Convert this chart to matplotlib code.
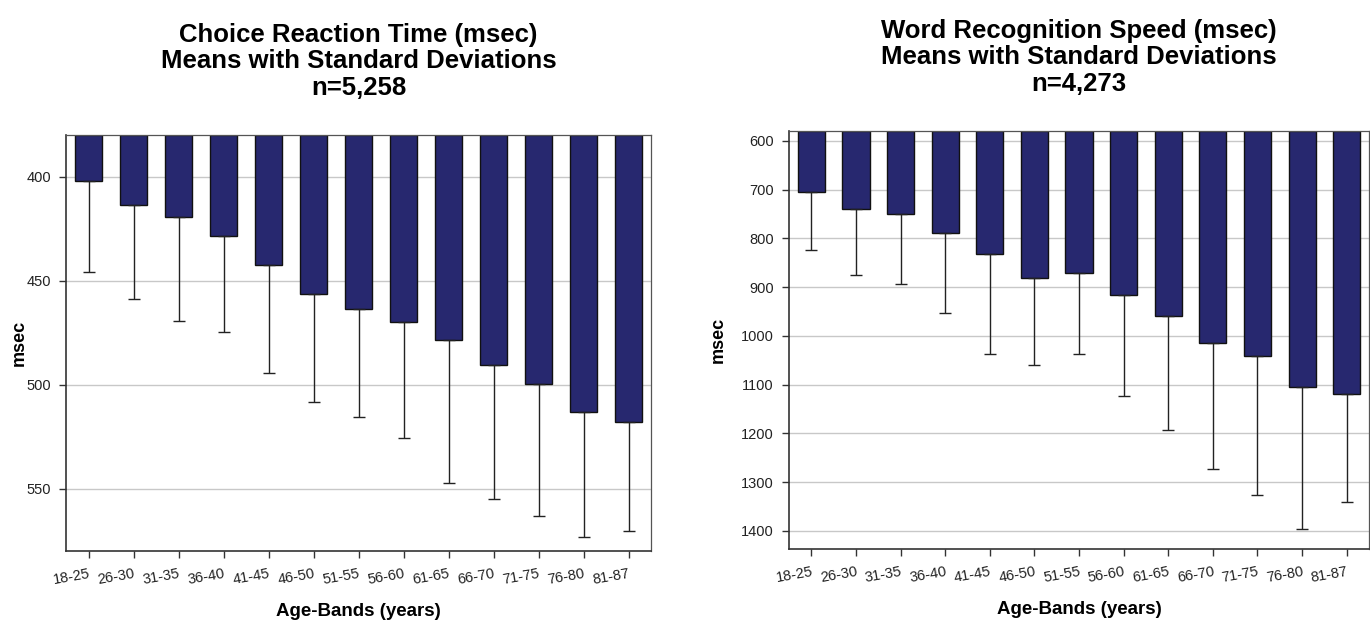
import numpy as np
import matplotlib
matplotlib.use('Agg')
import matplotlib.pyplot as plt
import matplotlib.transforms as mtransforms

plt.rcParams['font.family'] = ['Liberation Sans', 'DejaVu Sans']

age_bands = ["18-25", "26-30", "31-35", "36-40", "41-45", "46-50", "51-55",
             "56-60", "61-65", "66-70", "71-75", "76-80", "81-87"]

# Choice reaction time (msec): means and standard deviations
crt_mean = [402, 413.5, 419.5, 428.5, 442.5, 456.5, 463.5, 470, 478.5, 490.5, 499.5, 513, 518]
crt_sd = [44, 45.5, 50, 46, 52, 52, 52, 55.5, 69, 64.5, 63.5, 60.5, 52.5]

# Word recognition speed (msec): means and standard deviations
wrs_mean = [706, 739, 751, 789, 832, 882, 872, 917, 959, 1014, 1041, 1105, 1119]
wrs_sd = [118, 137, 142, 164, 206, 178, 165, 207, 234, 260, 286, 292, 222]

BAR_COLOR = '#27286F'
GRID_COLOR = '#c8c8c8'


def draw_panel(fig, rect, means, sds, title, ylim, yticks, ylabel_x):
    ax = fig.add_axes(rect)
    x = np.arange(len(age_bands))
    means = np.asarray(means, dtype=float)
    base = ylim[0]
    ax.bar(x, means - base, bottom=base, width=0.61, color=BAR_COLOR,
           edgecolor='#111111', linewidth=1.0, zorder=2)
    # only the upper half of each SD whisker is drawn
    ax.errorbar(x, means, yerr=[np.zeros_like(means), sds], fmt='none',
                ecolor='#222222', elinewidth=1.0, capsize=4.5, capthick=1.0,
                zorder=3)
    ax.set_xlim(-0.5, len(age_bands) - 0.5)
    ax.set_ylim(ylim[1], ylim[0])
    ax.set_yticks(yticks)
    ax.set_yticklabels([str(t) for t in yticks], fontsize=10.5, color='#222222')
    ax.yaxis.grid(True, color=GRID_COLOR, linewidth=1.0, zorder=0)
    ax.set_axisbelow(True)
    ax.set_xticks(x)
    ax.set_xticklabels(age_bands, rotation=10, ha='right',
                       rotation_mode='anchor', fontsize=10.5, color='#222222')
    shift = mtransforms.ScaledTranslation(4 / 100, 0, fig.dpi_scale_trans)
    for lab in ax.get_xticklabels():
        lab.set_transform(lab.get_transform() + shift)
    ax.tick_params(axis='both', direction='out', length=5, width=1,
                   color='#333333')
    ax.tick_params(axis='y', pad=6)
    ax.tick_params(axis='x', pad=6)
    for side in ['left', 'bottom']:
        ax.spines[side].set_color('#333333')
        ax.spines[side].set_linewidth(1.2)
    for side in ['top', 'right']:
        ax.spines[side].set_color('#555555')
        ax.spines[side].set_linewidth(0.9)
    ax.set_ylabel('msec', fontsize=13, fontweight='bold')
    ax.yaxis.set_label_coords(ylabel_x, 0.5)
    ax.set_xlabel('Age-Bands (years)', fontsize=13.5, fontweight='bold',
                  labelpad=12)
    ax.set_title(title, fontsize=18.5, fontweight='bold', linespacing=1.13,
                 pad=29)
    return ax


fig = plt.figure(figsize=(13.7, 6.21), dpi=100)

draw_panel(fig, [0.0482, 0.1127, 0.427, 0.670], crt_mean, crt_sd,
           "Choice Reaction Time (msec)\nMeans with Standard Deviations\nn=5,258",
           (380, 580), [400, 450, 500, 550], -0.0653)

draw_panel(fig, [0.5759, 0.116, 0.4234, 0.673], wrs_mean, wrs_sd,
           "Word Recognition Speed (msec)\nMeans with Standard Deviations\nn=4,273",
           (580, 1437), [600, 700, 800, 900, 1000, 1100, 1200, 1300, 1400],
           -0.1072)

fig.savefig('out.png', dpi=100)
